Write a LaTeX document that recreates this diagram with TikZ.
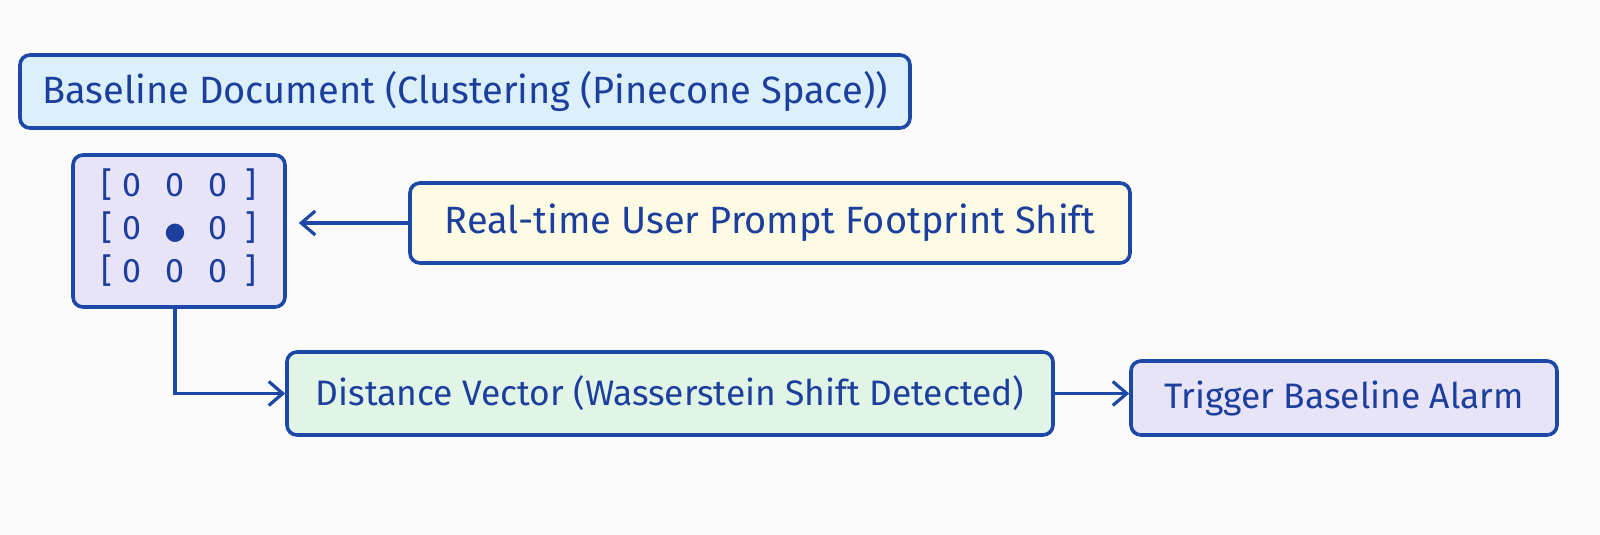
\documentclass[tikz,border=0pt]{standalone}
\usepackage{fontspec}
\setmainfont{Fira Sans}
\newfontfamily\symfont{DejaVu Sans}
\usetikzlibrary{positioning,arrows.meta}

\definecolor{inkblue}{HTML}{1E48A8}
\definecolor{txtblue}{HTML}{1C3E9C}
\definecolor{skyfill}{HTML}{DCF0FB}
\definecolor{lilacfill}{HTML}{E8E4F8}
\definecolor{creamfill}{HTML}{FDFBE3}
\definecolor{mintfill}{HTML}{E0F5E6}
\definecolor{paper}{HTML}{FBFBFB}

\tikzset{
  stagebox/.style={draw=inkblue,line width=1.8pt,rounded corners=5pt,
    text=txtblue,font=\fontsize{19}{22}\selectfont,inner sep=0pt},
  smallbox/.style={stagebox,font=\fontsize{17.7}{21}\selectfont},
  flow/.style={draw=inkblue,line width=1.6pt,-{Straight Barb[length=7pt,width=12pt,line width=1.6pt]}}
}

\begin{document}
\begin{tikzpicture}[x=0.5pt,y=-0.5pt]

  % Canvas
  \fill [paper] (0,0) rectangle (1600,535);
  \useasboundingbox (0,0) rectangle (1600,535);

  % Baseline document
  \node [stagebox,fill=skyfill,minimum width=445pt,minimum height=36.5pt]
    (base) at (465,91.5) {Baseline Document (Clustering (Pinecone Space))};

  % Embedding grid
  \node [stagebox,fill=lilacfill,minimum width=106pt,minimum height=76pt]
    (grid) at (179,231) {\fontsize{17}{21.5}\selectfont
      \begin{tabular}{@{}c@{\hspace{5pt}}c@{\hspace{11.5pt}}c@{\hspace{11.5pt}}c@{\hspace{9pt}}c@{}}
        {[} & 0 & 0 & 0 & {]} \\
        {[} & 0 & {\symfont\fontsize{12}{14}\selectfont ●} & 0 & {]} \\
        {[} & 0 & 0 & 0 & {]}
      \end{tabular}};

  % Live prompt footprint
  \node [stagebox,fill=creamfill,minimum width=360pt,minimum height=40pt]
    (prompt) at (770,223) {Real-time User Prompt Footprint Shift};

  % Distance
  \node [smallbox,fill=mintfill,minimum width=383pt,minimum height=41.5pt]
    (dist) at (670,393.5) {Distance Vector (Wasserstein Shift Detected)};

  % Alarm
  \node [smallbox,fill=lilacfill,minimum width=213pt,minimum height=37pt]
    (alarm) at (1344,398) {Trigger Baseline Alarm};

  % Connectors
  \draw [flow,shorten >=6pt] (prompt.west) -- (grid.east |- prompt.west);
  \draw [flow] ([xshift=-2pt]grid.south) |- (dist.west);
  \draw [flow] (dist.east) -- (alarm.west |- dist.east);

\end{tikzpicture}
\end{document}
